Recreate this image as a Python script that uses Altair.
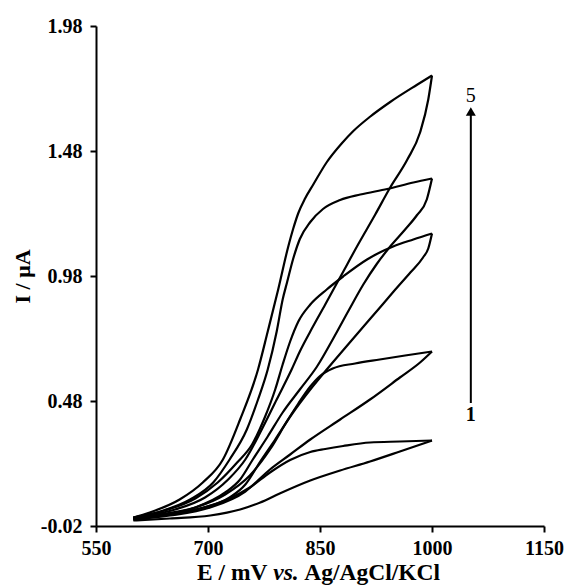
import altair as alt
import pandas as pd

# ---- cyclic voltammograms (E in mV, I in uA); forward branch and reverse branch ----
c1_fwd_E = [600, 649, 703, 743, 770, 796, 837, 877, 917, 957, 1000]
c1_fwd_I = [0.002, 0.010, 0.022, 0.046, 0.074, 0.110, 0.162, 0.202, 0.238, 0.278, 0.322]
c1_rev_E = [1000, 957, 917, 881, 857, 837, 810, 783, 756, 729, 685, 636, 600]
c1_rev_I = [0.322, 0.318, 0.314, 0.300, 0.288, 0.276, 0.244, 0.194, 0.134, 0.090, 0.046, 0.022, 0.010]

c2_fwd_E = [600, 649, 703, 750, 783, 810, 837, 877, 917, 957, 984, 1000]
c2_fwd_I = [0.006, 0.022, 0.054, 0.118, 0.206, 0.266, 0.326, 0.406, 0.486, 0.574, 0.634, 0.678]
c2_rev_E = [1000, 964, 930, 897, 867, 850, 837, 821, 806, 783, 756, 723, 683, 636, 600]
c2_rev_I = [0.678, 0.662, 0.646, 0.630, 0.610, 0.580, 0.538, 0.470, 0.400, 0.286, 0.182, 0.106, 0.054, 0.026, 0.010]

c3_fwd_E = [600, 636, 683, 729, 750, 770, 790, 812, 837, 859, 883, 906, 928, 948, 971, 988, 995, 1000]
c3_fwd_I = [0.006, 0.022, 0.046, 0.094, 0.146, 0.238, 0.326, 0.426, 0.526, 0.606, 0.690, 0.770, 0.846, 0.916, 0.994, 1.054, 1.090, 1.150]
c3_rev_E = [1000, 975, 948, 930, 913, 881, 859, 837, 821, 810, 800, 790, 776, 759, 739, 713, 683, 642, 600]
c3_rev_I = [1.150, 1.126, 1.098, 1.074, 1.046, 0.978, 0.926, 0.866, 0.798, 0.718, 0.626, 0.526, 0.414, 0.306, 0.234, 0.154, 0.090, 0.042, 0.014]

c4_fwd_E = [600, 636, 683, 723, 743, 760, 780, 800, 823, 846, 867, 888, 908, 926, 944, 964, 980, 993, 1000]
c4_fwd_I = [0.010, 0.022, 0.054, 0.114, 0.166, 0.246, 0.338, 0.434, 0.526, 0.618, 0.726, 0.840, 0.946, 1.028, 1.098, 1.166, 1.224, 1.286, 1.370]
c4_rev_E = [1000, 975, 940, 904, 877, 854, 837, 823, 814, 806, 800, 792, 780, 767, 752, 729, 707, 676, 636, 600]
c4_rev_I = [1.370, 1.354, 1.328, 1.306, 1.284, 1.248, 1.196, 1.128, 1.048, 0.956, 0.886, 0.758, 0.606, 0.486, 0.366, 0.246, 0.154, 0.086, 0.038, 0.014]

c5_fwd_E = [600, 622, 656, 696, 727, 750, 772, 792, 812, 823, 837, 857, 879, 901, 924, 944, 967, 984, 995, 1000]
c5_fwd_I = [0.010, 0.022, 0.046, 0.094, 0.166, 0.246, 0.366, 0.486, 0.606, 0.678, 0.758, 0.866, 0.986, 1.106, 1.226, 1.334, 1.446, 1.554, 1.686, 1.782]
c5_rev_E = [1000, 980, 944, 917, 894, 879, 859, 841, 830, 821, 814, 807, 794, 780, 767, 743, 720, 693, 662, 622, 600]
c5_rev_I = [1.782, 1.745, 1.676, 1.617, 1.558, 1.510, 1.435, 1.346, 1.290, 1.232, 1.168, 1.092, 0.926, 0.758, 0.606, 0.406, 0.246, 0.154, 0.086, 0.034, 0.014]

x_ticks = [550, 700, 850, 1000, 1150]
y_ticks = [-0.02, 0.48, 0.98, 1.48, 1.98]

# arrow 1 -> 5
arrow_E = [1052]
arrow_I_start = [0.472]
arrow_I_end = [1.638]
label_text = ["5", "1"]
label_I = [1.700, 0.425]

curves = [
    ("1", c1_fwd_E, c1_fwd_I, c1_rev_E, c1_rev_I),
    ("2", c2_fwd_E, c2_fwd_I, c2_rev_E, c2_rev_I),
    ("3", c3_fwd_E, c3_fwd_I, c3_rev_E, c3_rev_I),
    ("4", c4_fwd_E, c4_fwd_I, c4_rev_E, c4_rev_I),
    ("5", c5_fwd_E, c5_fwd_I, c5_rev_E, c5_rev_I),
]
rows = []
for name, fe, fi, re_, ri in curves:
    for e, i in zip(fe, fi):
        rows.append({"branch": name + "f", "E": e, "I": i})
    for e, i in zip(re_, ri):
        rows.append({"branch": name + "r", "E": e, "I": i})
df = pd.DataFrame(rows)

FONT = "Liberation Serif"

xscale = alt.Scale(domain=[550, 1150], nice=False, zero=False)
yscale = alt.Scale(domain=[-0.02, 1.98], nice=False, zero=False)

xaxis = alt.Axis(values=x_ticks, format="d", title=None, grid=False,
                 labelFont=FONT, labelFontSize=20, labelFontWeight="bold", labelColor="black",
                 domainColor="black", domainWidth=2, tickColor="black", tickWidth=2, tickSize=6,
                 labelPadding=6, labelFlush=False, labelOverlap=False)
yaxis = alt.Axis(values=y_ticks, title="I / μA", grid=False,
                 labelExpr="replace(format(datum.value, '.2f'), '\u2212', '-')",
                 labelFont=FONT, labelFontSize=20, labelFontWeight="bold", labelColor="black",
                 titleFont=FONT, titleFontSize=22, titleFontWeight="bold", titleColor="black",
                 titleX=-62,
                 domainColor="black", domainWidth=2, tickColor="black", tickWidth=2, tickSize=6,
                 labelPadding=8, labelFlush=False, labelOverlap=False)

lines = alt.Chart(df).mark_line(color="black", strokeWidth=2.2, interpolate="monotone").encode(
    x=alt.X("E:Q", scale=xscale, axis=xaxis),
    y=alt.Y("I:Q", scale=yscale, axis=yaxis),
    detail="branch:N",
)

arrow_df = pd.DataFrame({"E": arrow_E, "I0": arrow_I_start, "I1": arrow_I_end})
arrow_rule = alt.Chart(arrow_df).mark_rule(color="black", strokeWidth=2).encode(
    x=alt.X("E:Q", scale=xscale), y=alt.Y("I0:Q", scale=yscale), y2="I1:Q")
arrow_head = alt.Chart(arrow_df).mark_point(shape="triangle-up", filled=True, color="black",
                                            size=100, opacity=1).encode(
    x=alt.X("E:Q", scale=xscale), y=alt.Y("I1:Q", scale=yscale))

lab_df = pd.DataFrame({"E": arrow_E * 2, "I": label_I, "t": label_text})
label5 = alt.Chart(lab_df).transform_filter(alt.datum.t == "5").mark_text(
    font=FONT, fontSize=20, color="black", baseline="middle", align="center").encode(
    x=alt.X("E:Q", scale=xscale), y=alt.Y("I:Q", scale=yscale), text="t:N")
label1 = alt.Chart(lab_df).transform_filter(alt.datum.t == "1").mark_text(
    font=FONT, fontSize=20, fontWeight="bold", color="black", baseline="middle", align="center").encode(
    x=alt.X("E:Q", scale=xscale), y=alt.Y("I:Q", scale=yscale), text="t:N")

# x axis title with italic "vs."
tpart = pd.DataFrame({"k": [0]})
TS = 23.5
t1 = alt.Chart(tpart).mark_text(text="E / mV", font=FONT, fontSize=TS, fontWeight="bold",
                                color="black", align="left", baseline="alphabetic").encode(
    x=alt.value(101), y=alt.value(554))
t2 = alt.Chart(tpart).mark_text(text="vs.", font=FONT, fontSize=TS, fontWeight="bold",
                                fontStyle="italic", color="black", align="center",
                                baseline="alphabetic").encode(x=alt.value(190), y=alt.value(554))
t3 = alt.Chart(tpart).mark_text(text="Ag/AgCl/KCl", font=FONT, fontSize=TS, fontWeight="bold",
                                color="black", align="right", baseline="alphabetic").encode(
    x=alt.value(344), y=alt.value(554))

chart = alt.layer(lines, arrow_rule, arrow_head, label5, label1, t1, t2, t3).properties(
    width=448, height=500,
    autosize=alt.AutoSizeParams(type="none"),
    padding={"left": 96, "top": 26, "right": 22, "bottom": 62},
    background="white",
).configure_view(stroke="transparent")

chart.save("out.html", embed_options={"renderer": "svg", "actions": False})
